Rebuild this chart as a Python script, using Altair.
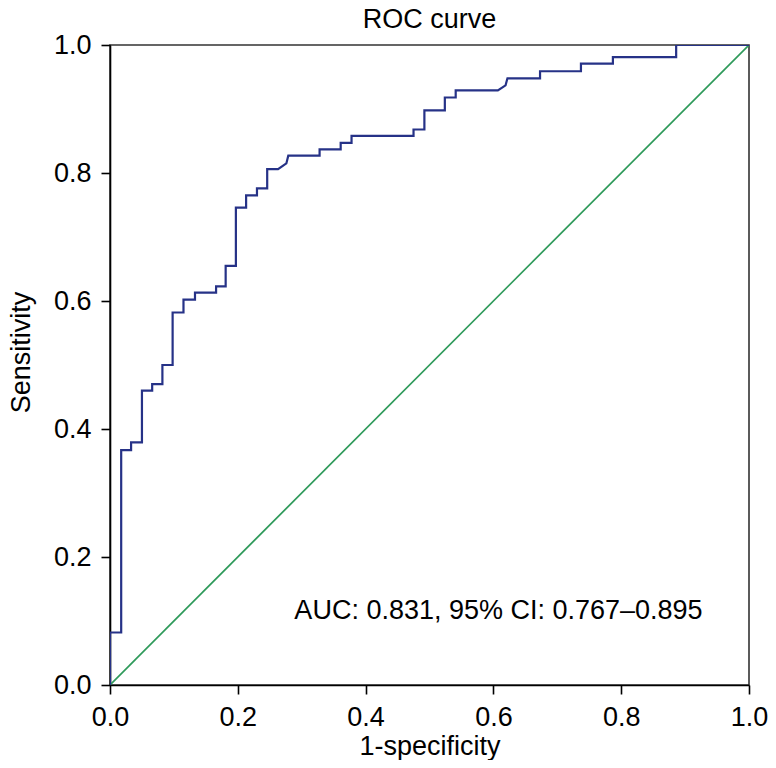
import altair as alt
import pandas as pd

# ROC curve corner points (1-specificity, sensitivity)
fpr = [0.000, 0.000, 0.0175, 0.0175, 0.033, 0.033, 0.050, 0.050, 0.066, 0.066,
       0.082, 0.082, 0.098, 0.098, 0.115, 0.115, 0.133, 0.133, 0.166, 0.166,
       0.181, 0.181, 0.197, 0.197, 0.213, 0.213, 0.230, 0.230, 0.246, 0.246,
       0.263, 0.276, 0.279, 0.328, 0.328, 0.361, 0.361, 0.378, 0.378, 0.475,
       0.475, 0.492, 0.492, 0.524, 0.524, 0.541, 0.541, 0.607, 0.619, 0.622,
       0.673, 0.673, 0.737, 0.737, 0.787, 0.787, 0.886, 0.886, 1.000]
tpr = [0.000, 0.082, 0.082, 0.367, 0.367, 0.379, 0.379, 0.460, 0.460, 0.470,
       0.470, 0.500, 0.500, 0.582, 0.582, 0.602, 0.602, 0.613, 0.613, 0.623,
       0.623, 0.655, 0.655, 0.746, 0.746, 0.765, 0.765, 0.776, 0.776, 0.806,
       0.806, 0.815, 0.827, 0.827, 0.837, 0.837, 0.847, 0.847, 0.858, 0.858,
       0.868, 0.868, 0.898, 0.898, 0.918, 0.918, 0.929, 0.929, 0.937, 0.948,
       0.948, 0.959, 0.959, 0.971, 0.971, 0.981, 0.981, 1.000, 1.000]

# chance (reference) line
ref_x = [0.0, 1.0]
ref_y = [0.0, 1.0]

tick_values = [0.0, 0.2, 0.4, 0.6, 0.8, 1.0]
chart_title = "ROC curve"
x_title = "1-specificity"
y_title = "Sensitivity"
auc = "0.831"
ci_low = "0.767"
ci_high = "0.895"
label_x = [0.608]
label_y = [0.103]

FONT = "Liberation Sans"
FS = 27
BLUE = "#263287"
GREEN = "#2e9a5a"
W, H = 639, 640

roc = pd.DataFrame({"fpr": fpr, "tpr": tpr, "order": list(range(len(fpr)))})
ref = pd.DataFrame({"fpr": ref_x, "tpr": ref_y})
ann = pd.DataFrame({"fpr": label_x, "tpr": label_y,
                    "label": [f"AUC: {auc}, 95% CI: {ci_low}\u2013{ci_high}"]})
ttl = pd.DataFrame({"t": [chart_title]})

xscale = alt.Scale(domain=[0, 1], nice=False, zero=False)
yscale = alt.Scale(domain=[0, 1], nice=False, zero=False)

xaxis = alt.Axis(values=tick_values, format=".1f", title=x_title,
                 titleX=W / 2, titleY=69, titleBaseline="alphabetic",
                 labelFlush=False, labelOverlap=False)
yaxis = alt.Axis(values=tick_values, format=".1f", title=y_title,
                 titleX=-81, titleY=307, titleBaseline="alphabetic",
                 titleAngle=270, titleAlign="center",
                 labelFlush=False, labelOverlap=False)

diag = alt.Chart(ref).mark_line(color=GREEN, strokeWidth=1.7, clip=True).encode(
    x=alt.X("fpr:Q", scale=xscale, axis=xaxis),
    y=alt.Y("tpr:Q", scale=yscale, axis=yaxis),
)

curve = alt.Chart(roc).mark_line(color=BLUE, strokeWidth=2.2, clip=True).encode(
    x=alt.X("fpr:Q", scale=xscale, axis=xaxis),
    y=alt.Y("tpr:Q", scale=yscale, axis=yaxis),
    order="order:Q",
)

text = alt.Chart(ann).mark_text(font=FONT, fontSize=FS, color="black",
                                align="center", baseline="alphabetic").encode(
    x=alt.X("fpr:Q", scale=xscale),
    y=alt.Y("tpr:Q", scale=yscale),
    text="label:N",
)

title_mark = alt.Chart(ttl).mark_text(font=FONT, fontSize=FS, color="black",
                                      align="center", baseline="alphabetic").encode(
    x=alt.value(W / 2),
    y=alt.value(-17),
    text="t:N",
)

chart = alt.layer(diag, curve, text, title_mark).properties(
    width=W,
    height=H,
    background="white",
    autosize=alt.AutoSizeParams(type="none"),
    padding={"left": 102, "top": 37, "right": 19, "bottom": 75},
).configure_view(
    stroke="#333333", strokeWidth=1.6
).configure_axis(
    grid=False,
    domainColor="black", domainWidth=1.6,
    tickColor="black", tickWidth=1.6, tickSize=9,
    labelFont=FONT, labelFontSize=FS, labelColor="black", labelPadding=10,
    titleFont=FONT, titleFontSize=FS, titleFontWeight="normal", titleColor="black",
)

chart.save("out.html", embed_options={"renderer": "svg", "actions": False})
